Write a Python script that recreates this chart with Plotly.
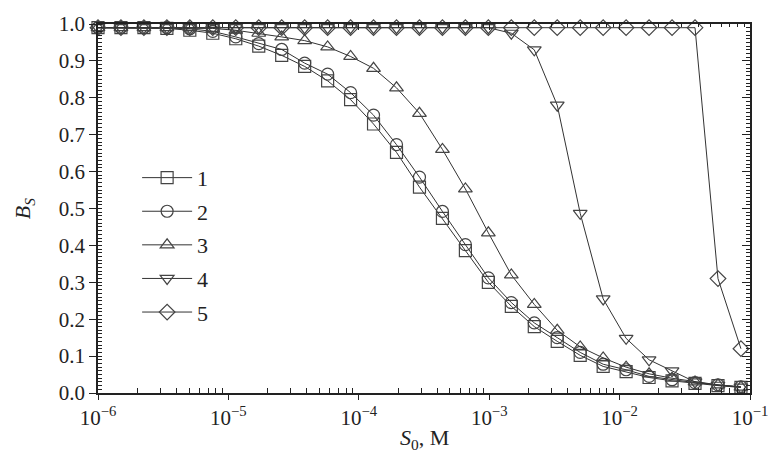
import plotly.graph_objects as go

# Substrate concentration grid, S0 (M)
s0 = [1.0e-6, 1.5e-6, 2.25e-6, 3.375e-6, 5.06e-6, 7.59e-6, 1.139e-5, 1.709e-5,
      2.563e-5, 3.844e-5, 5.767e-5, 8.65e-5, 1.297e-4, 1.946e-4, 2.919e-4,
      4.379e-4, 6.568e-4, 9.853e-4, 1.478e-3, 2.217e-3, 3.325e-3, 4.988e-3,
      7.482e-3, 1.122e-2, 1.683e-2, 2.525e-2, 3.788e-2, 5.682e-2, 8.522e-2]

# B_S for each curve
b1 = [0.99, 0.99, 0.99, 0.988, 0.983, 0.975, 0.96, 0.94, 0.915, 0.885, 0.846,
      0.795, 0.729, 0.652, 0.558, 0.473, 0.386, 0.30, 0.235, 0.18, 0.14, 0.102,
      0.072, 0.058, 0.042, 0.033, 0.026, 0.02, 0.015]
b2 = [0.99, 0.99, 0.99, 0.99, 0.987, 0.98, 0.965, 0.947, 0.931, 0.894, 0.864,
      0.814, 0.753, 0.673, 0.585, 0.492, 0.402, 0.312, 0.245, 0.19, 0.15, 0.11,
      0.078, 0.063, 0.045, 0.036, 0.028, 0.022, 0.017]
b3 = [0.99, 0.99, 0.99, 0.99, 0.99, 0.988, 0.983, 0.975, 0.965, 0.955, 0.938,
      0.912, 0.88, 0.827, 0.758, 0.66, 0.553, 0.434, 0.32, 0.24, 0.17, 0.125,
      0.095, 0.07, 0.052, 0.04, 0.03, 0.022, 0.016]
b4 = [0.99] * 18 + [0.975, 0.93, 0.78, 0.487, 0.255, 0.148, 0.09, 0.06, 0.03,
                    0.021, 0.016]
b5 = [0.99] * 27 + [0.31, 0.12]

series = [("1", b1, "square-open"), ("2", b2, "circle-open"),
          ("3", b3, "triangle-up-open"), ("4", b4, "triangle-down-open"),
          ("5", b5, "diamond-open")]

FONT = "Liberation Serif"
INK = "#222222"

fig = go.Figure()
for i, (name, ys, sym) in enumerate(series):
    fig.add_trace(go.Scatter(
        x=s0, y=ys, name=name, mode="lines+markers", legendgroup=name,
        line=dict(color="#333333", width=1),
        marker=dict(symbol=sym, size=12, color="#444444",
                    line=dict(width=1.2, color="#444444")),
        cliponaxis=False,
    ))

decades = [-6, -5, -4, -3, -2, -1]
major_x = [10.0 ** e for e in decades]
major_xt = ["10<sup>\u2212%d</sup>" % (-e) for e in decades]
minor_x = [m * 10.0 ** e for e in decades[:-1] for m in range(2, 10)]

fig.update_layout(
    width=780, height=465,
    margin=dict(l=98, r=20, t=17, b=72),
    paper_bgcolor="white", plot_bgcolor="white",
    font=dict(family=FONT, size=21, color=INK),
    showlegend=True,
    legend=dict(x=0.06, y=0.64, xanchor="left", yanchor="top",
                bgcolor="rgba(0,0,0,0)", font=dict(size=22, family=FONT),
                tracegroupgap=2, itemwidth=50),
    xaxis=dict(type="log", range=[-6, -1], tickvals=major_x, ticktext=major_xt,
               ticks="outside", ticklen=5, tickwidth=1.3, tickcolor=INK,
               showline=True, linecolor=INK, linewidth=1.6, showgrid=False,
               zeroline=False,
               minor=dict(tickvals=minor_x, ticks="inside", ticklen=5,
                          tickcolor=INK, showgrid=False)),
    xaxis2=dict(type="log", range=[-6, -1], overlaying="x", side="top",
                tickvals=major_x, showticklabels=False, ticks="inside",
                ticklen=6, tickcolor=INK, showline=True, linecolor=INK,
                linewidth=1.6, showgrid=False, zeroline=False,
                minor=dict(tickvals=minor_x, ticks="inside", ticklen=3,
                           tickcolor=INK, showgrid=False)),
    yaxis=dict(range=[0, 1], dtick=0.1, tickformat=".1f", ticks="outside",
               ticklen=7, tickwidth=1.3, tickcolor=INK, showline=True,
               linecolor=INK, linewidth=1.6, showgrid=False, zeroline=False,
               minor=dict(dtick=0.01, ticks="inside", ticklen=4,
                          tickcolor=INK, showgrid=False)),
    yaxis2=dict(range=[0, 1], overlaying="y", side="right", dtick=0.1,
                showticklabels=False, ticks="inside", ticklen=8,
                tickcolor=INK, showline=True, linecolor=INK, linewidth=1.6,
                showgrid=False, zeroline=False,
                minor=dict(dtick=0.01, ticks="inside", ticklen=4,
                           tickcolor=INK, showgrid=False)),
)

# invisible trace so the mirrored top/right axes are drawn
fig.add_trace(go.Scatter(x=[s0[0]], y=[0.5], xaxis="x2", yaxis="y2",
                         mode="markers", marker=dict(opacity=0),
                         showlegend=False, hoverinfo="skip"))

fig.add_annotation(text="<i>B</i><sub><i>S</i></sub>", xref="paper",
                   yref="paper", x=-0.114, xanchor="center", y=0.5,
                   yanchor="middle", showarrow=False, textangle=-90,
                   font=dict(size=22, family=FONT, color=INK))
fig.add_annotation(text="<i>S</i><sub>0</sub>, M", xref="paper",
                   yref="paper", x=0.5, xanchor="center", y=-0.125,
                   yanchor="middle", showarrow=False,
                   font=dict(size=22, family=FONT, color=INK))

fig.write_html("out.html")
